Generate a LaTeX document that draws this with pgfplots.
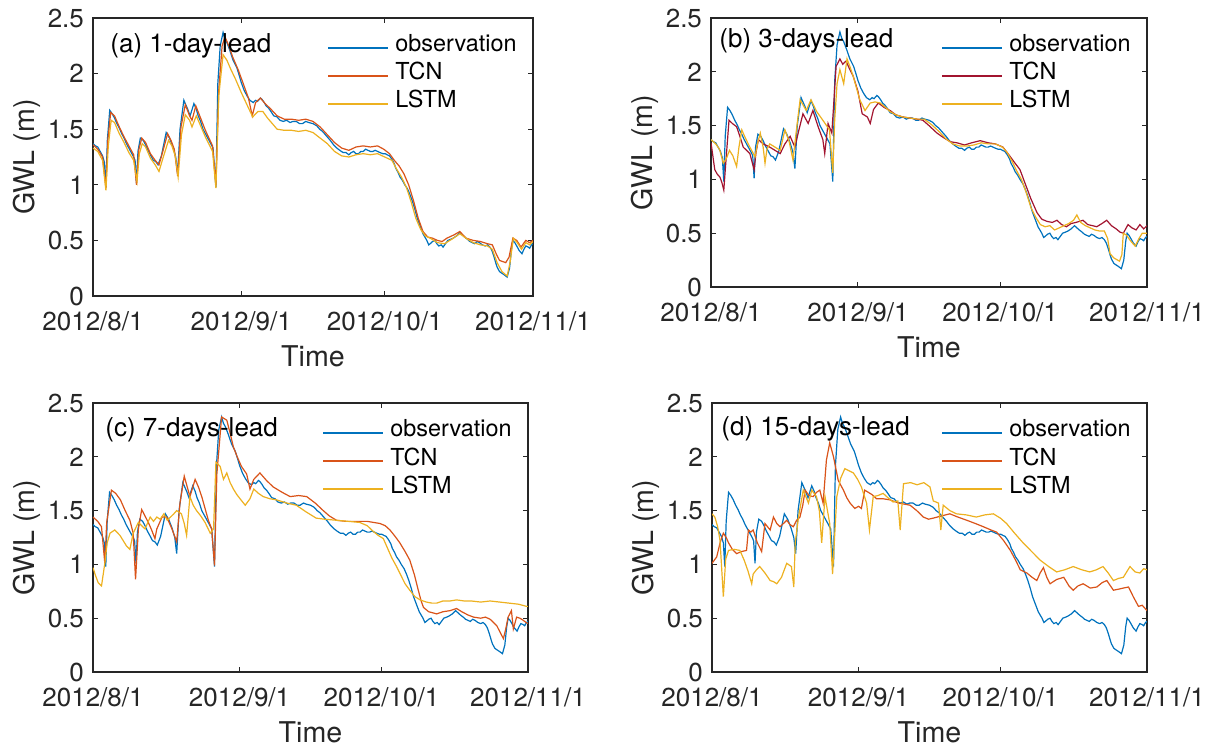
\documentclass[border=0pt]{standalone}
\usepackage{pgfplots}
\usepackage{pgfplotstable}
\usepackage{fontspec}
\setmainfont{TeX Gyre Heros}
\pgfplotsset{compat=1.18}

\definecolor{mblue}{rgb}{0.000,0.447,0.741}
\definecolor{morange}{rgb}{0.850,0.325,0.098}
\definecolor{myellow}{rgb}{0.929,0.694,0.125}
\definecolor{mdarkred}{rgb}{0.635,0.078,0.184}
\definecolor{axgray}{rgb}{0.15,0.15,0.15}

% observed groundwater level, days since 2012/8/1
\pgfplotstableread{
d v
0 1.37
0.5 1.35
1 1.34
1.5 1.30
2 1.26
2.4 1.20
2.7 0.98
3.0 1.40
3.5 1.67
4 1.64
4.5 1.60
5 1.55
5.5 1.51
6 1.46
6.5 1.42
7 1.37
7.5 1.33
8 1.29
8.5 1.25
8.8 1.22
9.1 1.01
9.4 1.30
9.9 1.42
10.5 1.40
11 1.36
11.5 1.31
12 1.27
12.6 1.22
13.1 1.21
13.6 1.18
14.3 1.26
15.3 1.47
16 1.42
16.7 1.34
17.3 1.25
17.7 1.10
18.2 1.50
19.0 1.76
19.4 1.72
19.8 1.68
20.3 1.62
21.1 1.73
21.6 1.68
22 1.62
22.5 1.57
23 1.50
23.5 1.46
24 1.42
24.5 1.38
25.1 1.33
25.7 0.98
26.1 1.91
26.6 2.25
27.2 2.37
27.6 2.31
28 2.28
28.6 2.21
29.3 2.12
30.1 2.05
30.6 1.98
31 1.92
31.6 1.85
32.2 1.80
32.8 1.76
33.5 1.74
34 1.76
34.4 1.75
35 1.78
35.3 1.77
35.8 1.74
36.2 1.71
36.7 1.69
37.2 1.66
37.8 1.62
38.5 1.61
39.1 1.58
39.8 1.57
40.5 1.58
41.2 1.56
41.8 1.57
42.5 1.57
43.2 1.55
43.8 1.55
44.5 1.57
45.1 1.56
46 1.55
46.8 1.53
47.4 1.50
48 1.48
48.8 1.44
49.6 1.40
50.3 1.36
51 1.33
51.6 1.31
52.3 1.29
52.9 1.29
53.5 1.27
54 1.29
54.5 1.30
55 1.28
55.5 1.28
56 1.30
56.5 1.30
57 1.32
57.5 1.31
58 1.30
58.5 1.30
59 1.31
59.5 1.30
60 1.29
60.6 1.28
61.1 1.28
61.5 1.27
62 1.26
62.5 1.23
63 1.19
63.3 1.15
63.8 1.11
64.2 1.07
64.7 1.04
65.2 1.00
65.8 0.96
66.3 0.91
66.8 0.85
67.3 0.78
67.8 0.70
68.4 0.63
69 0.56
69.8 0.50
70.2 0.46
70.5 0.47
71 0.49
71.5 0.50
71.9 0.47
72.3 0.45
72.8 0.46
73.2 0.44
73.7 0.47
74.2 0.50
74.8 0.51
75.3 0.52
76 0.54
76.7 0.57
77.2 0.55
77.7 0.53
78.3 0.51
78.8 0.49
79.3 0.48
79.8 0.47
80.3 0.49
80.8 0.48
81.4 0.46
82 0.45
82.5 0.46
83 0.44
83.4 0.41
83.8 0.36
84.2 0.30
84.5 0.26
85 0.22
85.3 0.21
86 0.19
86.6 0.17
87.1 0.25
87.5 0.42
87.8 0.50
88.2 0.48
88.6 0.45
89.1 0.41
89.7 0.38
90.1 0.42
90.5 0.45
91 0.44
91.3 0.43
91.7 0.46
92 0.47
}\obs

% (a) 1-day-lead
\pgfplotstableread{
d v
0 1.36
1 1.32
2 1.25
2.7 0.97
3.1 1.40
3.7 1.65
4.5 1.62
5.5 1.52
6.5 1.43
7.5 1.35
8.5 1.27
9.1 1.00
9.6 1.32
10.2 1.42
11 1.38
12 1.28
13 1.22
13.8 1.18
14.6 1.30
15.6 1.46
16.3 1.40
17 1.32
17.7 1.08
18.4 1.52
19.3 1.72
20.2 1.62
20.7 1.58
21.5 1.71
22.5 1.60
23.5 1.49
25 1.35
25.7 1.00
26.3 1.85
27 2.25
27.6 2.33
28.4 2.25
29.2 2.15
30.4 2.03
31.5 1.90
32.5 1.78
33.3 1.62
34 1.74
35 1.78
36 1.73
37.2 1.68
38.5 1.62
40 1.59
41.5 1.59
43 1.58
44.5 1.59
46 1.57
47.5 1.52
49 1.45
50.5 1.38
52 1.33
53.5 1.31
55 1.34
56.5 1.35
58 1.34
59.5 1.35
60.8 1.32
62 1.28
63 1.22
64 1.17
65 1.10
66 1.00
67 0.86
68 0.70
69 0.58
70 0.53
71 0.52
72 0.50
73 0.49
74 0.52
75.5 0.55
76.7 0.58
78 0.52
79.5 0.50
81 0.49
82.5 0.47
83.5 0.46
84.3 0.38
85 0.32
86.3 0.30
87 0.35
87.8 0.52
88.6 0.50
89.5 0.44
90.5 0.50
91.3 0.48
92 0.50
}\tcnA
\pgfplotstableread{
d v
0 1.33
1 1.30
2 1.22
2.7 0.95
3.2 1.35
3.8 1.58
4.5 1.56
5.5 1.46
6.5 1.38
7.5 1.29
8.5 1.22
9.2 1.03
9.7 1.28
10.3 1.37
11 1.34
12 1.24
13 1.18
13.8 1.12
14.7 1.25
15.8 1.40
16.5 1.35
17.2 1.26
17.8 1.07
18.5 1.45
19.3 1.63
20.2 1.58
20.7 1.52
21.6 1.62
22.5 1.53
23.5 1.43
25 1.30
25.7 0.97
26.3 1.80
27.2 2.17
28 2.12
28.8 2.04
29.8 1.95
31 1.83
32.3 1.71
33.4 1.61
34.5 1.66
35.5 1.66
36.5 1.60
37.5 1.55
38.5 1.50
40 1.49
41.5 1.49
43 1.48
44.5 1.49
46 1.47
47.5 1.42
49 1.37
50.5 1.30
52 1.26
53.5 1.25
55 1.27
56.5 1.28
58 1.27
59.5 1.28
61 1.25
62.5 1.22
63.5 1.14
64.5 1.07
65.5 0.98
66.5 0.85
67.5 0.70
68.5 0.60
69.5 0.54
70.5 0.52
72 0.48
73.5 0.47
75 0.51
76.7 0.56
78 0.52
79.5 0.48
81 0.46
82.5 0.45
83.5 0.42
84.5 0.30
85.5 0.22
86.6 0.18
87.2 0.30
87.9 0.52
88.7 0.48
89.6 0.42
90.5 0.48
91.3 0.46
92 0.49
}\lstmA

% (b) 3-days-lead
\pgfplotstableread{
d v
0 1.34
0.8 1.09
1.3 1.05
1.9 1.02
2.3 0.97
2.7 0.90
3.2 1.20
3.8 1.55
4.5 1.52
5.4 1.49
6.1 1.40
6.8 1.30
7.5 1.27
8.2 1.24
9.1 1.09
9.5 1.25
10 1.37
11 1.33
12.4 1.30
13.5 1.27
14.6 1.24
15.6 1.33
16.7 1.40
17.7 1.30
18.5 1.45
19.4 1.61
20.5 1.52
21.5 1.64
22.6 1.49
23.6 1.37
24 1.24
24.7 1.52
25.5 1.43
26.4 2.05
27.2 2.12
27.8 2.07
28.5 2.10
29.2 2.03
30 1.96
31 1.82
31.9 1.61
33 1.58
33.6 1.52
34.3 1.65
35.3 1.71
36.5 1.67
37.8 1.64
39 1.60
40.5 1.58
42 1.57
43.5 1.56
44.7 1.55
46 1.50
47.7 1.43
49 1.39
50.5 1.35
51.9 1.34
53.5 1.32
55 1.34
56.8 1.36
58.5 1.34
60 1.33
61.6 1.30
63 1.22
64 1.16
65.2 1.09
66.3 0.96
67.5 0.82
68.8 0.69
69.8 0.63
70.9 0.61
72 0.60
73 0.62
74 0.58
75 0.56
76 0.59
77 0.60
78.5 0.62
79.5 0.58
80.5 0.57
81.4 0.56
82.5 0.59
83.5 0.62
84.5 0.57
85.5 0.54
86.3 0.51
87 0.50
88 0.58
88.8 0.55
89.7 0.53
90.5 0.58
91.3 0.54
92 0.57
}\tcnB
\pgfplotstableread{
d v
0 1.37
1 1.33
1.8 1.28
2.6 1.15
3.3 1.20
3.9 1.27
4.6 1.22
5.4 1.12
5.9 1.30
6.5 1.46
7.3 1.38
8.2 1.30
9.3 1.21
9.8 1.33
10.4 1.43
11 1.30
11.4 1.15
11.8 1.28
12.4 1.33
13.5 1.30
14.6 1.27
15.6 1.46
16.5 1.35
17.3 1.18
18 1.45
18.8 1.74
20.1 1.64
21.1 1.74
22.3 1.63
23.6 1.55
25 1.46
25.7 1.06
26.1 1.55
26.6 1.89
27.2 2.02
28 1.89
28.7 2.12
29.3 2.05
30 1.96
30.7 1.85
31.4 1.74
32.5 1.64
33.6 1.71
34.6 1.72
35.7 1.71
36.8 1.67
37.8 1.63
39 1.60
40.5 1.58
42 1.57
43.5 1.56
45 1.56
46.5 1.51
48 1.45
49.5 1.38
51 1.33
52.5 1.31
54 1.31
55.5 1.32
57 1.34
58.5 1.33
60 1.33
61.5 1.30
62.5 1.25
63.5 1.17
64.5 1.08
65.5 1.00
66.5 0.88
67.5 0.74
68.5 0.65
69.5 0.58
70.5 0.56
71.5 0.57
72.5 0.53
73.5 0.55
74.5 0.57
75.5 0.59
76.5 0.62
77.2 0.67
78 0.60
79 0.57
80 0.55
81 0.53
82 0.52
83 0.52
83.7 0.45
84.2 0.31
85 0.27
86.2 0.24
86.7 0.30
87 0.50
87.7 0.48
88.5 0.43
89.5 0.38
90.3 0.45
91 0.50
92 0.50
}\lstmB

% (c) 7-days-lead
\pgfplotstableread{
d v
0 1.44
1 1.40
1.8 1.35
2.5 1.01
2.9 1.39
3.9 1.69
4.8 1.66
5.8 1.60
6.8 1.50
7.8 1.41
8.5 1.29
9.0 0.86
9.6 1.33
10.3 1.51
11 1.45
11.7 1.39
12.4 1.32
13.1 1.24
13.5 1.33
14.6 1.44
15.6 1.44
16.7 1.33
17.7 1.21
18.4 1.57
19.3 1.82
20.5 1.63
21.6 1.79
22.3 1.72
23 1.63
24.4 1.41
25.1 1.33
25.7 0.99
26.2 1.84
27.2 2.37
28.3 2.34
29 2.22
29.7 2.09
30.5 2.00
31.4 1.91
32.5 1.84
33.2 1.70
34 1.79
35.3 1.85
36.7 1.78
38.1 1.72
40 1.67
41.7 1.63
43.5 1.64
45.2 1.63
47 1.57
48.7 1.50
50 1.45
51.5 1.41
53.5 1.40
55.7 1.40
58 1.40
60.7 1.38
61.8 1.36
62.8 1.32
63.9 1.26
64.9 1.20
66 1.12
67 1.04
68 0.90
68.8 0.76
69.4 0.66
69.9 0.60
71 0.56
72.7 0.54
74 0.56
75.5 0.57
76.9 0.59
78 0.56
79.3 0.53
80.5 0.51
82 0.50
83 0.51
84 0.49
85.4 0.43
86.1 0.37
86.8 0.31
87.3 0.40
87.8 0.51
88.5 0.57
88.9 0.40
89.6 0.51
90.3 0.50
91 0.48
91.6 0.46
92 0.45
}\tcnC
\pgfplotstableread{
d v
0 0.97
0.5 0.90
1.1 0.83
1.8 0.80
2.5 1.01
3 1.20
3.6 1.29
4.6 1.32
5.7 1.27
6.4 1.22
7.1 1.17
7.8 1.14
8.5 1.29
9.6 1.39
10.3 1.36
11 1.33
12.1 1.44
12.8 1.40
13.5 1.44
14.2 1.42
15 1.47
15.7 1.41
16.4 1.44
17.1 1.47
17.7 1.50
18.7 1.47
19.3 1.38
19.8 1.27
20.5 1.63
21.2 1.55
21.9 1.50
22.8 1.45
23.7 1.39
24.8 1.29
25.5 1.33
26 1.95
26.9 1.91
27.6 1.79
28.3 1.85
29 1.76
29.7 1.70
30.4 1.65
31.1 1.61
32.2 1.55
33.2 1.61
34 1.70
35 1.66
36 1.63
37.4 1.61
38.8 1.60
41 1.57
43 1.55
45 1.49
47.2 1.43
49 1.42
51.5 1.41
54 1.40
56.4 1.39
58 1.36
59.2 1.31
60.3 1.27
61.4 1.24
62.3 1.15
63.2 1.06
64.2 0.98
65.1 0.90
66 0.82
67 0.76
68.1 0.70
69.2 0.67
70.5 0.65
71.7 0.64
72.7 0.64
74 0.66
75.5 0.66
76.9 0.67
78.5 0.66
80 0.66
82 0.65
84 0.66
86 0.65
88 0.64
90 0.63
91.7 0.61
92 0.61
}\lstmC

% (d) 15-days-lead
\pgfplotstableread{
d v
0 1.01
0.5 1.04
1 1.07
1.7 1.20
2.4 1.29
3 1.25
3.5 1.20
4.3 1.14
5.2 1.10
6.3 1.12
7.3 1.13
7.7 1.32
8.2 1.30
8.7 1.32
9.6 1.20
10.5 1.12
11.2 1.38
12.3 1.32
13 1.44
13.7 1.38
14.4 1.35
15.1 1.38
15.8 1.41
16.5 1.37
17.2 1.35
17.9 1.41
18.6 1.44
19.2 1.55
19.7 1.69
20.5 1.64
21.4 1.63
22.1 1.67
22.8 1.69
23.5 1.57
24.2 1.97
24.9 2.13
25.7 2.00
26.7 1.78
27.8 1.69
28.5 1.62
29.2 1.57
30.2 1.52
31 1.54
31.6 1.52
32.3 1.69
33.8 1.65
34.8 1.61
36.2 1.61
37.6 1.60
39.5 1.57
41.9 1.55
43.3 1.50
44.7 1.44
45.8 1.42
46.8 1.43
48.5 1.45
50.3 1.47
52 1.44
53.9 1.41
55.7 1.38
57.4 1.35
59 1.32
60.2 1.30
61.7 1.22
63.1 1.13
64.2 1.04
65.2 0.95
66.6 0.92
67.7 0.88
68.7 0.85
69.4 0.92
70.1 0.97
70.8 0.88
71.5 0.82
72.9 0.86
74.4 0.88
75.5 0.80
76.4 0.76
77.4 0.80
78.5 0.82
80 0.78
81.4 0.79
82.5 0.83
83.5 0.85
84.9 0.76
86 0.77
87 0.78
88.1 0.79
89.1 0.70
90.2 0.61
91 0.62
92 0.57
}\tcnD
\pgfplotstableread{
d v
0 1.47
0.6 1.44
1.2 1.35
1.7 1.22
2.4 0.70
2.9 1.05
3.5 1.13
4.7 1.14
5.9 1.13
6.8 1.04
7.6 0.94
8.4 0.82
8.7 0.91
9.4 0.95
10.1 0.98
11.2 0.92
12.3 0.85
13 0.84
13.7 0.82
14.7 0.88
15.8 1.01
16.8 0.98
17.3 0.79
17.6 1.20
18.3 1.44
19.3 1.69
20.4 1.57
21.1 1.69
22.1 1.63
22.7 1.50
23.2 1.20
23.9 1.63
24.9 1.38
25.5 0.91
26.4 1.63
27.2 1.80
28.1 1.89
29 1.87
29.9 1.85
30.8 1.79
31.6 1.72
32.7 1.57
33.3 1.32
34.1 1.63
35.1 1.64
36.2 1.66
37.2 1.62
38.3 1.58
39.3 1.59
39.8 1.32
40.5 1.75
42 1.76
43.4 1.74
44.8 1.76
46.1 1.72
46.8 1.59
47.9 1.57
48.4 1.32
48.9 1.55
50.3 1.50
51.7 1.47
53.8 1.46
55.9 1.44
57.7 1.46
59.5 1.47
61 1.43
62.3 1.38
64 1.29
65.8 1.20
67.6 1.12
69.4 1.04
71.2 0.98
72.9 0.93
74.6 0.95
76.4 0.98
78.2 0.95
79.9 0.93
81.3 0.95
82.7 0.98
83.8 0.92
84.9 0.85
86 0.87
87 0.88
88.4 0.98
89.5 0.93
90.5 0.92
91.3 0.96
92 0.95
}\lstmD

\pgfplotsset{
  gwl/.style={
    scale only axis,
    anchor=south west,
    xmin=0, xmax=92,
    ymin=0, ymax=2.5,
    xtick={0,31,61,92},
    xticklabels={2012/8/1,2012/9/1,2012/10/1,2012/11/1},
    ytick={0,0.5,1,1.5,2,2.5},
    /pgf/number format/assume math mode=true,
    tick align=inside,
    major tick length=2.5pt,
    axis line style={line width=0.55pt, draw=axgray},
    major tick style={line width=0.55pt, draw=axgray},
    tick label style={font=\fontsize{13}{15}\selectfont, text=axgray},
    xticklabel style={yshift=-4pt},
    yticklabel style={xshift=-1pt},
    label style={font=\fontsize{14.3}{17}\selectfont, text=axgray},
    xlabel={Time},
    ylabel={GWL (m)},
    xlabel style={at={(axis description cs:0.5,0)}, anchor=center, yshift=-30pt},
    ylabel style={at={(axis description cs:0,0.5)}, anchor=center, rotate=0, yshift=33pt},
    legend style={draw=none, fill=none, inner sep=0pt,
      at={(axis description cs:1,1)}, anchor=north east,
      xshift=-8pt, yshift=-7.8pt,
      font=\fontsize{11.7}{14}\selectfont,
      nodes={inner sep=0pt, text height=9pt, text depth=5pt},
      column sep=3.3pt},
    legend cell align=left,
    legend image code/.code={\draw[#1, line width=0.7pt] (0pt,0pt) -- (30pt,0pt);},
    every axis plot/.append style={line width=0.6pt},
  },
}
\tikzset{paneltitle/.style={anchor=base west, inner sep=0pt, font=\fontsize{13}{15}\selectfont}}

\begin{document}
\begin{tikzpicture}
\useasboundingbox (0,0) rectangle (606pt,375pt);

\begin{axis}[gwl, at={(46.5pt,227pt)}, width=220pt, height=139pt]
\addplot[mblue] table[x=d,y=v]{\obs};
\addplot[morange] table[x=d,y=v]{\tcnA};
\addplot[myellow] table[x=d,y=v]{\lstmA};
\legend{observation,TCN,LSTM}
\node[paneltitle, xshift=8.5pt, yshift=-17.5pt] at (rel axis cs:0,1) {(a) 1-day-lead};
\end{axis}

\begin{axis}[gwl, at={(355.5pt,231.5pt)}, width=218pt, height=134.5pt]
\addplot[mblue] table[x=d,y=v]{\obs};
\addplot[mdarkred] table[x=d,y=v]{\tcnB};
\addplot[myellow] table[x=d,y=v]{\lstmB};
\legend{observation,TCN,LSTM}
\node[paneltitle, xshift=4pt, yshift=-15pt] at (rel axis cs:0,1) {(b) 3-days-lead};
\end{axis}

\begin{axis}[gwl, at={(46.5pt,39pt)}, width=217.5pt, height=134.5pt]
\addplot[mblue] table[x=d,y=v]{\obs};
\addplot[morange] table[x=d,y=v]{\tcnC};
\addplot[myellow] table[x=d,y=v]{\lstmC};
\legend{observation,TCN,LSTM}
\node[paneltitle, xshift=6pt, yshift=-17pt] at (rel axis cs:0,1) {(c) 7-days-lead};
\end{axis}

\begin{axis}[gwl, at={(356pt,39pt)}, width=217.5pt, height=134.5pt]
\addplot[mblue] table[x=d,y=v]{\obs};
\addplot[morange] table[x=d,y=v]{\tcnD};
\addplot[myellow] table[x=d,y=v]{\lstmD};
\legend{observation,TCN,LSTM}
\node[paneltitle, xshift=4.5pt, yshift=-16pt] at (rel axis cs:0,1) {(d) 15-days-lead};
\end{axis}
\end{tikzpicture}
\end{document}
